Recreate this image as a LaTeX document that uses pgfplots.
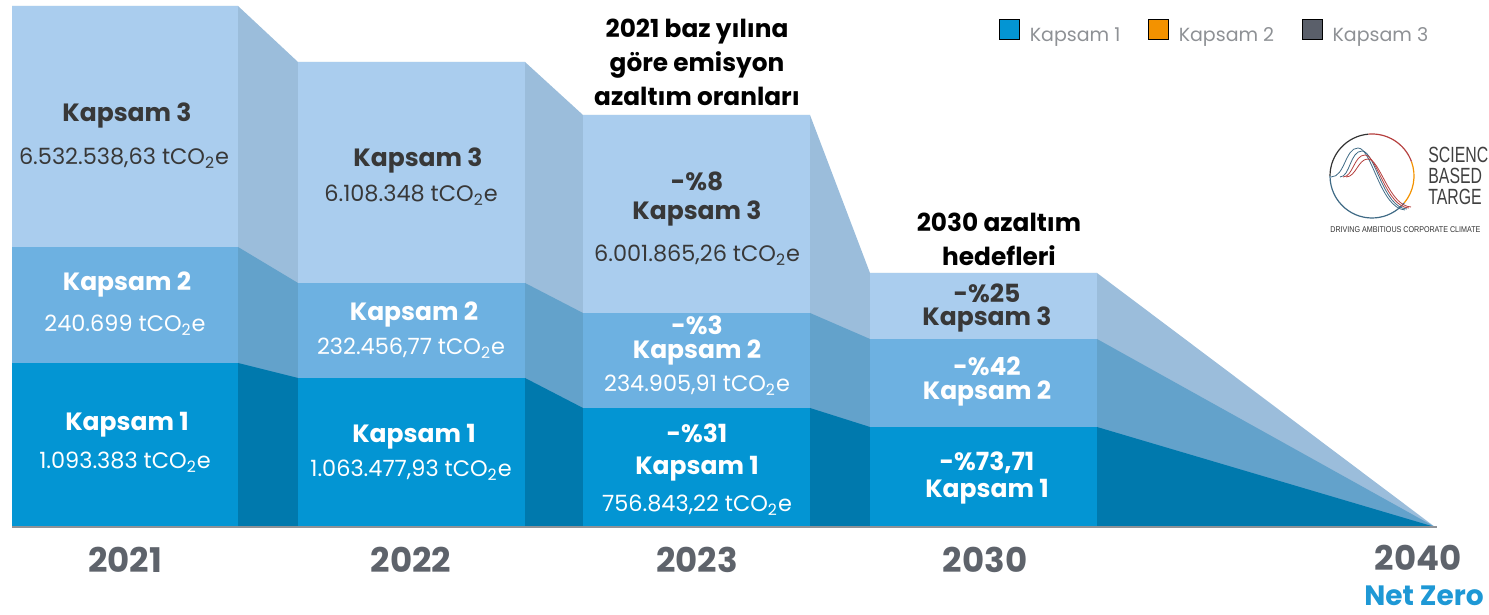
\documentclass[border=0pt]{standalone}
\usepackage{fontspec}
\setmainfont{Poppins}
\newfontfamily\helv[FakeStretch=0.72]{Liberation Sans}
\newfontfamily\helvs[FakeStretch=0.85]{Liberation Sans}
\usepackage{pgfplots}
\pgfplotsset{compat=1.18}
\definecolor{kA}{HTML}{0395D3}
\definecolor{kAd}{HTML}{0079AD}
\definecolor{kB}{HTML}{6DB1E1}
\definecolor{kBd}{HTML}{63A2CB}
\definecolor{kC}{HTML}{AACDEE}
\definecolor{kCd}{HTML}{9BBDDB}
\definecolor{darktxt}{HTML}{383838}
\definecolor{yeargray}{HTML}{5E636B}
\definecolor{leggray}{HTML}{8E9195}
\definecolor{netblue}{HTML}{1E98D5}
\definecolor{orng}{HTML}{F39200}
\definecolor{slate}{HTML}{5A5F6A}
\definecolor{logored}{HTML}{B5403F}
\definecolor{logoblue}{HTML}{3F6A85}
\newcommand\kap{\fontsize{12.5}{14}\selectfont\bfseries}
\newcommand\val{\fontsize{11.2}{13}\selectfont}
\newcommand\ttl{\fontsize{12.4}{17}\selectfont\bfseries}
\newcommand\yr{\fontsize{17}{19}\selectfont\bfseries}
\tikzset{pair/.style={align=center, inner sep=1pt, font={\fontsize{12.5}{#1}\selectfont\bfseries\lineskiplimit=-30pt}}}
\begin{document}
\begin{tikzpicture}
\begin{axis}[scale only axis, width=744.5pt, height=307.5pt,
  xmin=0, xmax=1489, ymin=0, ymax=615, hide axis, clip=false,
  legend style={at={(axis cs:993,600)}, anchor=north west, draw=none, fill=none,
    legend columns=3, font=\color{leggray}\fontsize{9.5}{11}\selectfont,
    /tikz/every even column/.append style={column sep=12pt},
    legend cell align=left},
  legend image code/.code={\fill[#1] (0pt,-1.7pt) rectangle (10pt,8.3pt);\path[draw=none,fill=none] (0pt,0pt) rectangle (13pt,0.1pt);}]
% layer silhouettes (connector colours)
\addplot[forget plot, fill=kCd, draw=none] coordinates {(12,88)(12,609)(238,609)(298,553)(525,553)(583,500)(810,500)(870,342)(1097,342)(1435,88)};
\addplot[forget plot, fill=kBd, draw=none] coordinates {(12,88)(12,368)(238,368)(298,332)(525,332)(583,302)(810,302)(870,276)(1097,276)(1435,88)};
\addplot[forget plot, fill=kAd, draw=none] coordinates {(12,88)(12,252)(238,252)(298,237)(525,237)(583,207)(810,207)(870,188)(1097,188)(1435,88)};
% blocks: Kapsam 3
\addplot[forget plot, fill=kC, draw=none] coordinates {(12,368)(12,609)(238,609)(238,368)};
\addplot[forget plot, fill=kC, draw=none] coordinates {(298,332)(298,553)(525,553)(525,332)};
\addplot[forget plot, fill=kC, draw=none] coordinates {(583,302)(583,500)(810,500)(810,302)};
\addplot[forget plot, fill=kC, draw=none] coordinates {(870,276)(870,342)(1097,342)(1097,276)};
% blocks: Kapsam 2
\addplot[forget plot, fill=kB, draw=none] coordinates {(12,252)(12,368)(238,368)(238,252)};
\addplot[forget plot, fill=kB, draw=none] coordinates {(298,237)(298,332)(525,332)(525,237)};
\addplot[forget plot, fill=kB, draw=none] coordinates {(583,207)(583,302)(810,302)(810,207)};
\addplot[forget plot, fill=kB, draw=none] coordinates {(870,188)(870,276)(1097,276)(1097,188)};
% blocks: Kapsam 1
\addplot[forget plot, fill=kA, draw=none] coordinates {(12,88)(12,252)(238,252)(238,88)};
\addplot[forget plot, fill=kA, draw=none] coordinates {(298,88)(298,237)(525,237)(525,88)};
\addplot[forget plot, fill=kA, draw=none] coordinates {(583,88)(583,207)(810,207)(810,88)};
\addplot[forget plot, fill=kA, draw=none] coordinates {(870,88)(870,188)(1097,188)(1097,88)};
% baseline
\addplot[forget plot, draw=yeargray!70, line width=0.8pt] coordinates {(12,88)(1437,88)};
% legend
\addlegendimage{fill=kA}\addlegendentry{Kapsam 1}
\addlegendimage{fill=orng}\addlegendentry{Kapsam 2}
\addlegendimage{fill=slate}\addlegendentry{Kapsam 3}
% 2021 labels
\node[darktxt] at (axis cs:127,500) {\kap Kapsam 3};
\node[darktxt] at (axis cs:124,457) {\val 6.532.538,63 tCO\textsubscript{2}e};
\node[white] at (axis cs:127,330) {\kap Kapsam 2};
\node[white] at (axis cs:125,290) {\val 240.699 tCO\textsubscript{2}e};
\node[white] at (axis cs:127,190) {\kap Kapsam 1};
\node[white] at (axis cs:125,153) {\val 1.093.383 tCO\textsubscript{2}e};
% 2022 labels
\node[darktxt] at (axis cs:418,455) {\kap Kapsam 3};
\node[darktxt] at (axis cs:411,420) {\val 6.108.348 tCO\textsubscript{2}e};
\node[white] at (axis cs:414,300) {\kap Kapsam 2};
\node[white] at (axis cs:411,267) {\val 232.456,77 tCO\textsubscript{2}e};
\node[white] at (axis cs:414,178) {\kap Kapsam 1};
\node[white] at (axis cs:411,145) {\val 1.063.477,93 tCO\textsubscript{2}e};
% 2023 labels
\node[align=center, font=\ttl] at (axis cs:697,553) {2021 baz yılına\\göre emisyon\\azaltım oranları};
\node[pair=14.5, darktxt] at (axis cs:697,416) {-\%8\\Kapsam 3};
\node[darktxt, inner sep=1pt] at (axis cs:697,360) {\val 6.001.865,26 tCO\textsubscript{2}e};
\node[pair=12, white] at (axis cs:697,275) {-\%3\\Kapsam 2};
\node[white, inner sep=1pt] at (axis cs:697,230) {\val 234.905,91 tCO\textsubscript{2}e};
\node[pair=16, white] at (axis cs:697,163) {-\%31\\Kapsam 1};
\node[white, inner sep=1pt] at (axis cs:697,110) {\val 756.843,22 tCO\textsubscript{2}e};
% 2030 labels
\node[align=center, font=\ttl] at (axis cs:999,376) {2030 azaltım\\hedefleri};
\node[pair=11.5, darktxt] at (axis cs:987,307) {-\%25\\Kapsam 3};
\node[pair=12, white] at (axis cs:987,233) {-\%42\\Kapsam 2};
\node[pair=13.5, white] at (axis cs:987,137) {-\%73,71\\Kapsam 1};
% years
\node[yeargray] at (axis cs:125,55) {\yr 2021};
\node[yeargray] at (axis cs:411,55) {\yr 2022};
\node[yeargray] at (axis cs:697,55) {\yr 2023};
\node[yeargray] at (axis cs:985,55) {\yr 2030};
\node[yeargray] at (axis cs:1418,57) {\yr 2040};
\node[netblue, anchor=east, inner sep=0pt] at (axis cs:1484,19) {\fontsize{14}{16}\selectfont\bfseries Net Zero};
% SBTi logo
\draw[line width=0.6pt, draw=black!80] (axis cs:1372,439) ++(180:21pt) arc[start angle=180, end angle=95, radius=21pt];
\draw[line width=0.6pt, draw=logored] (axis cs:1372,439) ++(95:21pt) arc[start angle=95, end angle=20, radius=21pt];
\draw[line width=0.6pt, draw=orng] (axis cs:1372,439) ++(20:21pt) arc[start angle=20, end angle=-40, radius=21pt];
\draw[line width=0.6pt, draw=logoblue] (axis cs:1372,439) ++(-40:21pt) arc[start angle=-40, end angle=-180, radius=21pt];
\draw[line width=0.4pt, draw=logoblue] (axis cs:1331,438) .. controls (axis cs:1345,438) and (axis cs:1345,467) .. (axis cs:1358,467) .. controls (axis cs:1372,467) and (axis cs:1380,407) .. (axis cs:1405,405);
\draw[line width=0.4pt, draw=logoblue] (axis cs:1340,438) .. controls (axis cs:1350,438) and (axis cs:1350,464) .. (axis cs:1362,464) .. controls (axis cs:1375,464) and (axis cs:1383,407) .. (axis cs:1407,406);
\draw[line width=0.4pt, draw=logored] (axis cs:1343,438) .. controls (axis cs:1353,438) and (axis cs:1354,460) .. (axis cs:1365,460) .. controls (axis cs:1377,460) and (axis cs:1386,408) .. (axis cs:1409,407);
\draw[line width=0.4pt, draw=logored] (axis cs:1346,438) .. controls (axis cs:1356,438) and (axis cs:1358,456) .. (axis cs:1368,456) .. controls (axis cs:1380,456) and (axis cs:1389,409) .. (axis cs:1411,408);
\node[anchor=west, inner sep=0pt, text=black!75] at (axis cs:1428,460) {\helv\fontsize{11}{12}\selectfont SCIENC};
\node[anchor=west, inner sep=0pt, text=black!75] at (axis cs:1428,439) {\helv\fontsize{11}{12}\selectfont BASED};
\node[anchor=west, inner sep=0pt, text=black!75] at (axis cs:1428,418) {\helv\fontsize{11}{12}\selectfont TARGE};
\node[anchor=west, inner sep=0pt, text=black!80] at (axis cs:1330,385) {\helvs\fontsize{4.2}{5}\selectfont DRIVING AMBITIOUS CORPORATE CLIMATE};
\end{axis}
\pgfresetboundingbox
\path (0,0) rectangle (744.5pt,307.5pt);
\end{tikzpicture}
\end{document}
